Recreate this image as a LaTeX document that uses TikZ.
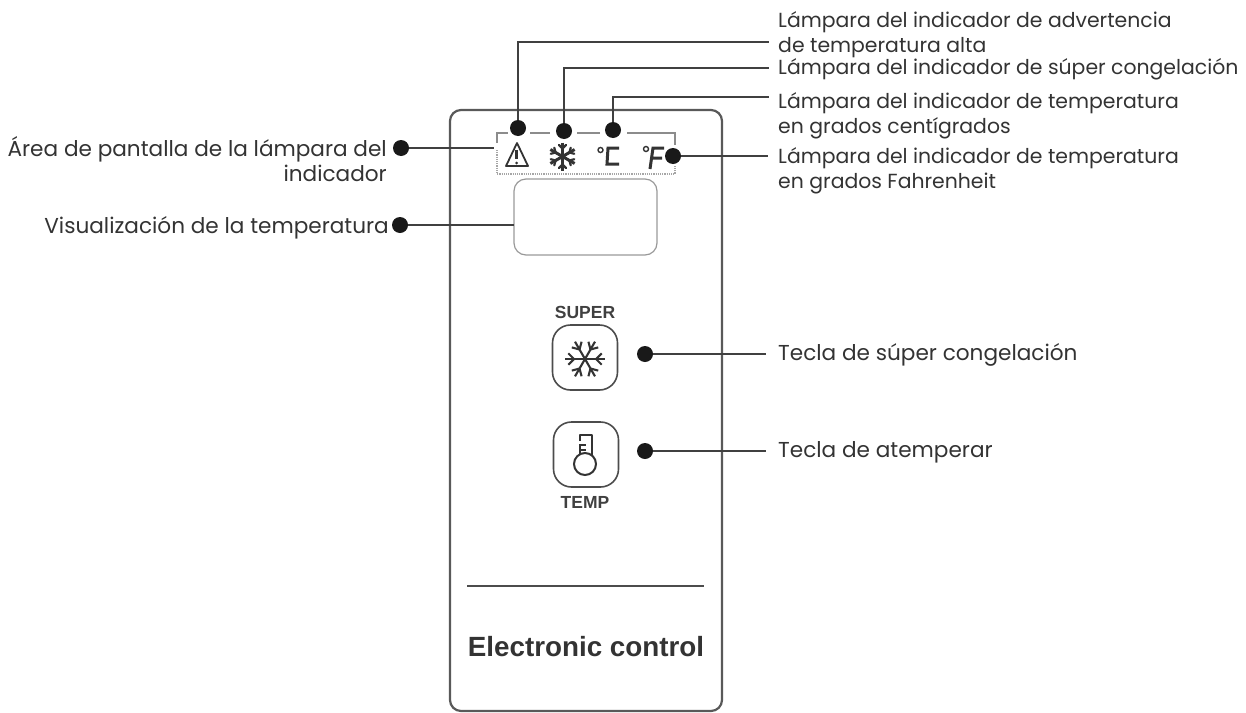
\documentclass[tikz,border=0pt]{standalone}
\usepackage{fontspec}
\setmainfont{Poppins}
\newfontfamily\hv{Liberation Sans}
\tikzset{
 x=1pt,y=-1pt,
 lbl/.style={inner sep=0pt,font=\fontsize{21.6}{25}\selectfont,text=black!80,align=left,anchor=west},
 lbltop/.style={inner sep=0pt,font=\fontsize{20.4}{25}\selectfont,text=black!80,align=left,anchor=west},
 lblr/.style={inner sep=0pt,font=\fontsize{21.6}{25}\selectfont,text=black!80,align=right,anchor=east},
 dotn/.style={circle,fill=black!90,inner sep=0pt,minimum size=16pt},
 lead/.style={draw=black!75,line width=2pt},
 frame/.style={draw=black!65,line width=2.2pt},
 indbox/.style={draw=black!45,line width=1.2pt},
 keybox/.style={draw=black!70,line width=1.6pt,rounded corners=18pt,minimum width=65pt,minimum height=65pt,inner sep=0pt},
 sym/.style={draw=black!80,line width=2pt,line cap=round},
 kl/.style={inner sep=0pt,font=\hv\bfseries\fontsize{17.5}{20}\selectfont,text=black!75},
}
\begin{document}
\begin{tikzpicture}
\useasboundingbox (0,0) rectangle (1246,712);
% panel
\node[frame,draw,rounded corners=11pt,minimum width=272pt,minimum height=601pt,inner sep=0pt] (panel) at (586,410.5) {};
% indicator area
\draw[indbox] (497,143) -- (497,133) -- (508,133) (530,133) -- (550,133) (577,133) -- (600,133) (627,133) -- (675,133) -- (675,145);
\draw[indbox,draw=black!35,densely dotted] (497,150) -- (497,174) -- (675,174) -- (675,165);
% temp display
\node[draw=black!40,line width=1.2pt,rounded corners=12pt,minimum width=143pt,minimum height=76pt,inner sep=0pt] (disp) at (585.5,217) {};
% warning icon
\draw[sym,line width=1.8pt,line join=round] (517,143) -- (506,166) -- (528,166) -- cycle;
\draw[black!80,line width=2.4pt] (516.5,150) -- (516.5,159);
\fill[black!80] (516.5,163) circle (1.5pt);
% snow indicator
\foreach \a in {30,90,150} {\draw[sym,line width=3pt,line cap=butt] (562.5,156.5) ++(\a:-14) -- ++(\a:28);}
\foreach \a in {30,90,150,210,270,330} {\draw[sym,line width=2.2pt] (562.5,156.5) ++(\a:8) -- ++(\a+45:5) (562.5,156.5) ++(\a:8) -- ++(\a-45:5);}
% C and F
\draw[black!80,line width=1.4pt] (600.5,150) circle (2.5pt);
\draw[sym,line width=3pt,line cap=butt] (619,148) -- (608,148) -- (607,164) -- (619,164);
\draw[black!80,line width=1.4pt] (646,149) circle (2.5pt);
\draw[sym,line width=3pt,line cap=butt] (664,148) -- (653,148) -- (650,169) (652,158) -- (662,158);
% keys
\node[keybox] (k1) at (585,357.5) {};
\node[keybox] (k2) at (586,454.5) {};
\node[kl] (super) at (585,312) {SUPER};
\node[kl] (temp) at (585,502) {TEMP};
% key snowflake
\foreach \a in {0,60,120} {\draw[sym,line width=2.1pt,line cap=butt] (585,359) ++(\a:-20) -- ++(\a:40);}
\foreach \a in {0,60,120,180,240,300} {\draw[sym,line width=2.1pt,line cap=butt] (585,359) ++(\a:11) -- ++(\a+45:8) (585,359) ++(\a:11) -- ++(\a-45:8);}
% thermometer
\draw[sym,line width=2pt,line cap=butt,line join=round] (580,441) -- (580,435) -- (592,435) -- (592,455);
\draw[sym,line width=2pt,line cap=butt] (580,444) -- (580,455);
\draw[sym,line width=2pt] (585,464) circle (11pt);
\draw[sym,line width=1.6pt,line cap=butt] (580,445) -- (586,445) (580,450) -- (586,450);
% bottom rule and title
\coordinate (ruleL) at (467,586);
\coordinate (ruleR) at (704,586);
\draw[draw=black!70,line width=1.6pt] (ruleL) -- (ruleR);
\node[inner sep=0pt,font=\hv\bfseries\fontsize{27.8}{30}\selectfont,text=black!80] (title) at (586,647) {Electronic control};
% labels
\node[lbltop] (t1) at (778,35) {Lámpara del indicador de advertencia\\de temperatura alta};
\node[lbltop] (t3) at (778,69) {Lámpara del indicador de súper congelación};
\node[lbltop] (t4) at (778,116) {Lámpara del indicador de temperatura\\en grados centígrados};
\node[lbltop] (t5) at (778,171) {Lámpara del indicador de temperatura\\en grados Fahrenheit};
\node[lbl] (t6) at (778,355) {Tecla de súper congelación};
\node[lbl] (t7) at (778,452) {Tecla de atemperar};
\node[lblr] (t8) at (387,159) {Área de pantalla de la lámpara del\\indicador};
\node[lblr] (t9) at (389,228) {Visualización de la temperatura};
% dots
\node[dotn] (d1) at (518,128) {};
\node[dotn] (d2) at (564,131) {};
\node[dotn] (d3) at (613,130) {};
\node[dotn] (d4) at (673,156) {};
\node[dotn] (d5) at (401,148) {};
\node[dotn] (d6) at (400,225) {};
\node[dotn] (d7) at (645,354) {};
\node[dotn] (d8) at (645,451) {};
% connectors
\coordinate (e1) at (769,42);
\coordinate (e2) at (769,68);
\coordinate (e3) at (769,97);
\coordinate (e4) at (768,156);
\coordinate (e5) at (494,148);
\coordinate (e6) at (514,225);
\coordinate (e7) at (766,354);
\coordinate (e8) at (766,451);
\draw[lead] (d1) |- (e1);
\draw[lead] (d2) |- (e2);
\draw[lead] (d3) |- (e3);
\draw[lead] (d4) -- (e4);
\draw[lead] (d5) -- (e5);
\draw[lead] (d6) -- (e6);
\draw[lead] (d7) -- (e7);
\draw[lead] (d8) -- (e8);
\end{tikzpicture}
\end{document}
